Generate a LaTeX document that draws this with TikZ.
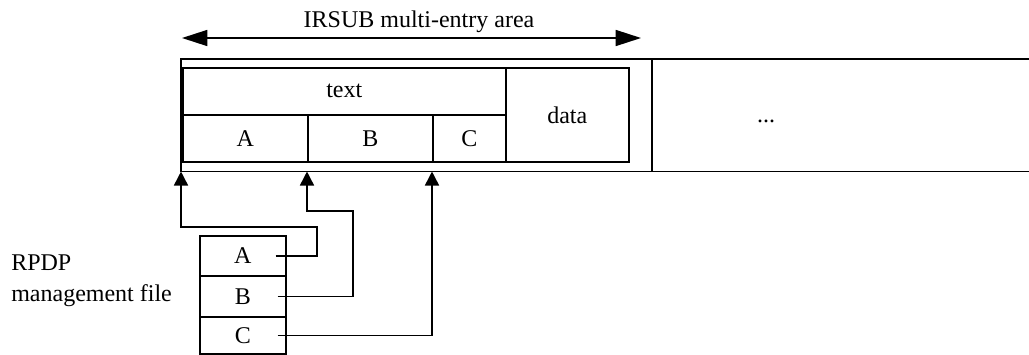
\documentclass[tikz,border=0pt]{standalone}
\usepackage{fontspec}
\setmainfont{Liberation Serif}
\usetikzlibrary{arrows.meta,calc}

\tikzset{
  cell/.style={draw, line width=1.2pt, inner sep=0pt, anchor=north west},
  lbl/.style={inner sep=0pt},
  conn/.style={line width=1.2pt, -{Triangle[length=10.5pt,width=10.5pt]}},
  span/.style={line width=1.2pt, {Triangle[length=19pt,width=12pt]}-{Triangle[length=19pt,width=12pt]}},
  frame/.style={line width=1.4pt}
}

\begin{document}
\begin{tikzpicture}[x=0.75pt, y=-0.75pt, font=\fontsize{18}{23.5}\selectfont]
\useasboundingbox (0,0) rectangle (1029,354);

% overall entry area (open on the right)
\node[draw=none, inner sep=0pt, anchor=north west, minimum width=848*0.75pt, minimum height=112*0.75pt] (area) at (181,59) {};
\draw[frame] (area.north east) -- (area.north west) -- (area.south west) -- (area.south east);
\draw[frame] (652,59) -- (652,171);

% one entry: text part split into A, B, C, and its data part
\node[cell, minimum width=323*0.75pt, minimum height=47*0.75pt] (textcell) at (182,67) {text};
\node[cell, minimum width=125*0.75pt, minimum height=47*0.75pt] (cellA) at (182,114) {A};
\node[cell, minimum width=125*0.75pt, minimum height=47*0.75pt] (cellB) at (307,114) {B};
\node[cell, minimum width=73*0.75pt, minimum height=47*0.75pt] (cellC) at (432,114) {C};
\node[cell, minimum width=123*0.75pt, minimum height=94*0.75pt] (datacell) at (505,67) {data};

\node[lbl, anchor=base] (dots) at (766,122) {...};

% extent of the multi-entry area
\coordinate (spanL) at (182,38);
\coordinate (spanR) at (641,38);
\draw[span] (spanL) -- (spanR);
\node[lbl, anchor=base] (title) at (419,27) {IRSUB multi-entry area};

% management file
\node[cell, minimum width=86*0.75pt, minimum height=40*0.75pt] (rpA) at (199,235) {A};
\node[cell, minimum width=86*0.75pt, minimum height=41*0.75pt] (rpB) at (199,275) {B};
\node[cell, minimum width=86*0.75pt, minimum height=37*0.75pt] (rpC) at (199,316) {C};
\node[lbl, anchor=west, align=left] (rpdp) at (11,281) {RPDP\\management file};

% references from the file into the entry
\draw[conn] ([xshift=-8.25pt]rpA.east) -| (317,227) -| (area.south west);
\draw[conn] ([xshift=-6.75pt]rpB.east) -| (353,211) -| (cellB.south west |- area.south);
\draw[conn] ([xshift=-6.75pt]rpC.east) -| (cellC.south west |- area.south);
\end{tikzpicture}
\end{document}
